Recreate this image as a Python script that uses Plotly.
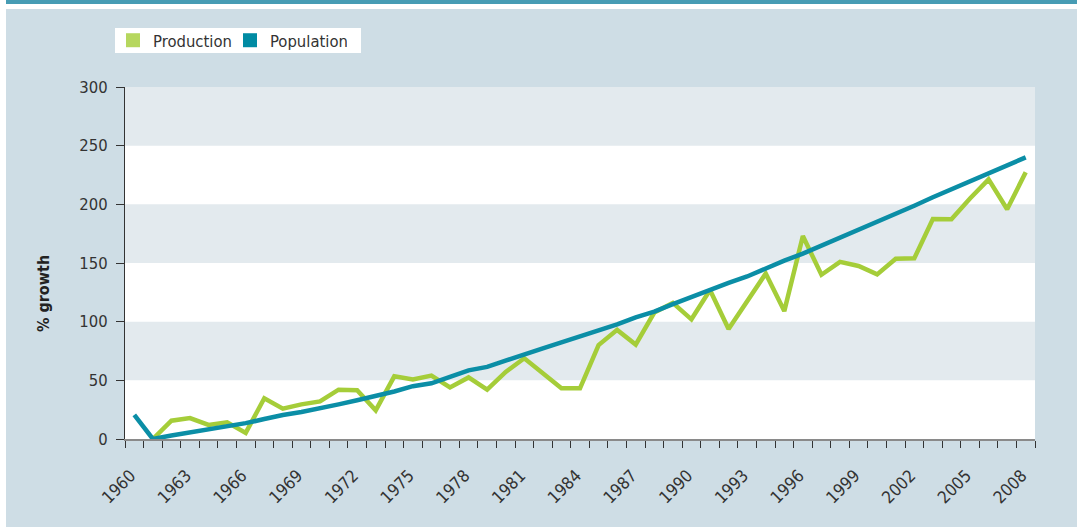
import plotly.graph_objects as go

years = list(range(1960, 2009))
production = [None, 0, 15.6, 17.8, 12, 14.2, 5.2, 34.7, 25.8, 29.5,
              32, 42, 41.5, 24.4, 53.4, 50.8, 54, 44, 52.5, 42,
              57.2, 68.8, 55.5, 43.2, 43.2, 80, 93, 80.5, 107.8, 116,
              102, 127, 93.8, 117, 141, 109, 173, 140, 151, 147.5,
              140.3, 153.7, 154, 187.5, 187.2, 205, 221.3, 195.8, 227.3]
population = [20.5, 0, 3, 5.5, 8, 10.5, 13.5, 17, 20.5, 23,
              26, 29.5, 33, 36.5, 40.5, 45, 47.5, 53, 58.5, 61.5,
              67, 72, 77.3, 82.4, 87.2, 92, 97.7, 103.7, 108.5, 115,
              121.3, 127, 133, 138.5, 145.5, 152, 158, 164.8, 171, 177.5,
              184.4, 191.8, 198.8, 206, 212.8, 220, 227.3, 233.5, 240]
label_years = list(range(1960, 2009, 3))
label_text = [str(y) for y in label_years]
series_names = ["Production", "Population"]

GREEN = "#a5cd39"
TEAL = "#0b8ea6"
PANEL = "#cedde5"
BAND = "#e3eaee"
FONT = "DejaVu Sans Condensed, Liberation Sans Narrow, Roboto, sans-serif"

W, H = 1077, 527
L, R, T, B = 125, 42, 87, 88
pw, ph = W - L - R, H - T - B

def px(x):
    return (x - L) / pw

def py(y):
    return (H - B - y) / ph

fig = go.Figure()
fig.add_trace(go.Scatter(x=years, y=production, mode="lines", name=series_names[0],
                         line=dict(color=GREEN, width=4.5), showlegend=False))
fig.add_trace(go.Scatter(x=years, y=population, mode="lines", name=series_names[1],
                         line=dict(color=TEAL, width=4.5), showlegend=False))
# legend entries (square swatches)
fig.add_trace(go.Scatter(x=[None], y=[None], mode="markers", name=series_names[0],
                         marker=dict(symbol="square", size=14, color="#b6d75e")))
fig.add_trace(go.Scatter(x=[None], y=[None], mode="markers", name=series_names[1],
                         marker=dict(symbol="square", size=14, color="#008ba3")))

shapes = []
for lo in (50, 150, 250):
    shapes.append(dict(type="rect", xref="paper", yref="y", x0=0, x1=1, y0=lo, y1=lo + 50,
                       fillcolor=BAND, line=dict(width=0), layer="below"))
shapes.append(dict(type="rect", xref="paper", yref="paper", x0=px(0), x1=px(6), y0=py(H), y1=py(0),
                   fillcolor="white", line=dict(width=0), layer="below"))
shapes.append(dict(type="rect", xref="paper", yref="paper", x0=px(0), x1=px(W), y0=py(9), y1=py(0),
                   fillcolor="white", line=dict(width=0), layer="below"))
shapes.append(dict(type="rect", xref="paper", yref="paper", x0=px(6), x1=px(W), y0=py(4), y1=py(0),
                   fillcolor="#479cb4", line=dict(width=0), layer="below"))
# legend box background
shapes.append(dict(type="rect", xref="paper", yref="paper", x0=px(115), x1=px(361), y0=py(53), y1=py(28),
                   fillcolor="white", line=dict(width=0), layer="below"))

fig.update_layout(
    width=W, height=H,
    margin=dict(l=L, r=R, t=T, b=B, autoexpand=False),
    paper_bgcolor=PANEL, plot_bgcolor="white",
    shapes=shapes,
    showlegend=True,
    legend=dict(orientation="h", x=px(113), y=py(40.5), xanchor="left", yanchor="middle",
                bgcolor="rgba(0,0,0,0)", borderwidth=0,
                font=dict(family=FONT, size=16.5, color="#333333"),
                itemwidth=30, tracegroupgap=0, entrywidth=72, entrywidthmode="pixels"),
    annotations=[dict(text="<b>% growth</b>", xref="paper", yref="paper", x=px(43), y=py(294),
                      xanchor="center", yanchor="middle", textangle=-90, showarrow=False,
                      font=dict(family=FONT, size=16, color="#222222"))],
)
fig.update_xaxes(range=[1959.5, 2008.5], tickmode="array",
                 tickvals=[y - 0.2 for y in label_years], ticktext=label_text,
                 ticks="", tickangle=-45, showgrid=False, zeroline=False,
                 showline=True, linecolor="#8a8a8a", linewidth=2,
                 tickfont=dict(family=FONT, size=17, color="#333333"),
                 minor=dict(tick0=1959.5, dtick=1, ticks="outside", ticklen=7, tickwidth=1,
                            tickcolor="#333333", showgrid=False),
                 ticklabelstandoff=18)
fig.update_yaxes(range=[0, 300], dtick=50, ticks="outside", ticklen=8, tickcolor="#333333",
                 showgrid=False, zeroline=False, showline=True, linecolor="#333333", linewidth=1,
                 tickfont=dict(family=FONT, size=16.5, color="#333333"), ticklabelstandoff=5)

fig.write_html("out.html", config={"displayModeBar": False},
               post_script="document.body.style.margin='0';document.body.style.overflow='hidden';")
